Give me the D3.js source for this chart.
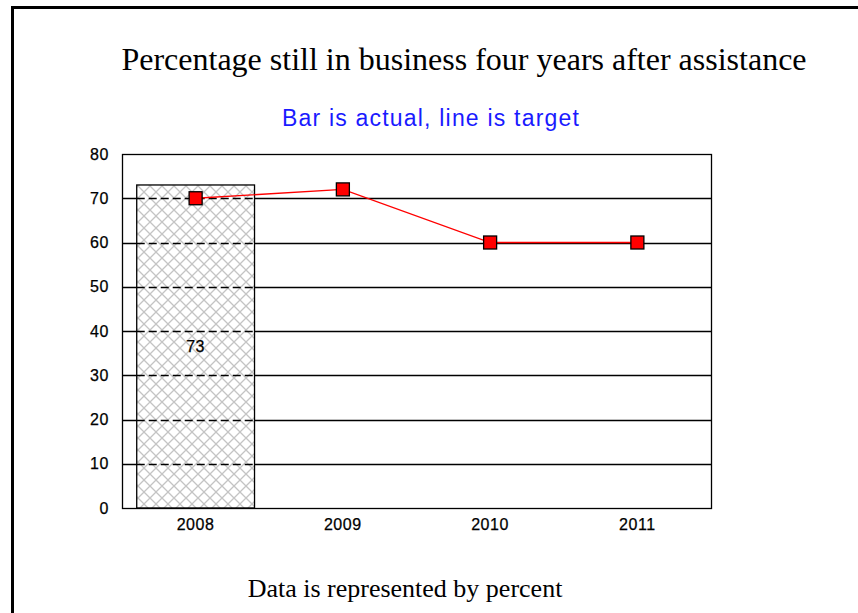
<!DOCTYPE html>
<meta charset="utf-8">
<title>Percentage still in business</title>
<style>
body {
  margin: 0;
  background: #fff;
}
.axis text {
  font: 16px "Liberation Sans", Arial, sans-serif;
  letter-spacing: 0.6px;
  fill: #000;
  stroke: #000;
  stroke-width: 0.25px;
}
</style>
<body>
<script src="https://cdnjs.cloudflare.com/ajax/libs/d3/7.8.5/d3.min.js"></script>
<script>
var years = ["2008", "2009", "2010", "2011"];
var actual = [73, null, null, null];
var target = [70, 72, 60, 60];
var yTicks = [0, 10, 20, 30, 40, 50, 60, 70, 80];

var w = 858,
    h = 613,
    pLeft = 122,
    pRight = 711,
    pTop = 154,
    pBottom = 508;

var svg = d3.select("body").append("svg")
    .attr("width", w)
    .attr("height", h);

// page frame
svg.append("path")
    .attr("d", "M12.5," + h + "V7.5H" + w)
    .attr("fill", "none")
    .attr("stroke", "#000")
    .attr("stroke-width", 3);

svg.append("text")
    .attr("x", 464)
    .attr("y", 70)
    .attr("text-anchor", "middle")
    .style("font", "32px 'Liberation Serif', 'Times New Roman', serif")
    .text("Percentage still in business four years after assistance");

svg.append("text")
    .attr("x", 431)
    .attr("y", 126)
    .attr("text-anchor", "middle")
    .style("font", "23px 'Liberation Sans', Arial, sans-serif")
    .style("letter-spacing", "1.2px")
    .style("fill", "#1a1aff")
    .text("Bar is actual, line is target");

svg.append("text")
    .attr("x", 405)
    .attr("y", 597)
    .attr("text-anchor", "middle")
    .style("font", "26px 'Liberation Serif', 'Times New Roman', serif")
    .text("Data is represented by percent");

var x = d3.scaleBand()
    .domain(years)
    .range([pLeft, pRight])
    .paddingInner(0.2)
    .paddingOuter(0.1);

var y = d3.scaleLinear()
    .domain([0, 80])
    .range([pBottom, pTop]);

var pat = svg.append("defs").append("pattern")
    .attr("id", "hatch")
    .attr("patternUnits", "userSpaceOnUse")
    .attr("width", 12)
    .attr("height", 12);
pat.append("rect").attr("width", 12).attr("height", 12).attr("fill", "#fff");
pat.append("path")
    .attr("d", "M0,0L12,12M12,0L0,12")
    .attr("stroke", "#c4c4c4")
    .attr("stroke-width", 1.3);

// gridlines
svg.append("g")
  .selectAll("line")
    .data(yTicks.slice(1, -1))
  .enter().append("line")
    .attr("x1", pLeft)
    .attr("x2", pRight)
    .attr("y1", function(d) { return Math.round(y(d)) + 0.5; })
    .attr("y2", function(d) { return Math.round(y(d)) + 0.5; })
    .attr("stroke", "#000")
    .attr("stroke-width", 1.3);

var bars = years.map(function(d, i) { return {year: d, value: actual[i]}; })
    .filter(function(d) { return d.value != null; });

svg.append("g")
  .selectAll("rect")
    .data(bars)
  .enter().append("rect")
    .attr("x", function(d) { return x(d.year); })
    .attr("y", function(d) { return y(d.value); })
    .attr("width", x.bandwidth())
    .attr("height", function(d) { return y(0) - y(d.value); })
    .attr("fill", "url(#hatch)")
    .attr("stroke", "#000")
    .attr("stroke-width", 1.3);

// gridlines seen through the bar are dashed
bars.forEach(function(b) {
  svg.append("g")
    .selectAll("line")
      .data(yTicks.filter(function(t) { return t > 0 && t < b.value; }))
    .enter().append("line")
      .attr("x1", x(b.year))
      .attr("x2", x(b.year) + x.bandwidth())
      .attr("y1", function(d) { return Math.round(y(d)) + 0.5; })
      .attr("y2", function(d) { return Math.round(y(d)) + 0.5; })
      .attr("stroke", "#000")
      .attr("stroke-width", 1.3)
      .attr("stroke-dasharray", "8,4");
});

svg.append("g")
  .selectAll("text")
    .data(bars)
  .enter().append("text")
    .attr("x", function(d) { return x(d.year) + x.bandwidth() / 2; })
    .attr("y", function(d) { return y(d.value / 2) + 6; })
    .attr("text-anchor", "middle")
    .style("font", "16px 'Liberation Sans', Arial, sans-serif")
    .style("letter-spacing", "0.6px")
    .style("stroke", "#000")
    .style("stroke-width", "0.25px")
    .text(function(d) { return d.value; });

// plot frame
svg.append("rect")
    .attr("x", pLeft + 0.5)
    .attr("y", pTop + 0.5)
    .attr("width", pRight - pLeft)
    .attr("height", pBottom - pTop)
    .attr("fill", "none")
    .attr("stroke", "#000")
    .attr("stroke-width", 1.3);

var pts = years.map(function(d, i) { return {year: d, value: target[i]}; });

svg.append("path")
    .datum(pts)
    .attr("fill", "none")
    .attr("stroke", "#ff0000")
    .attr("stroke-width", 1.3)
    .attr("d", d3.line()
        .x(function(d) { return x(d.year) + x.bandwidth() / 2; })
        .y(function(d) { return y(d.value); }));

svg.append("g")
  .selectAll("rect")
    .data(pts)
  .enter().append("rect")
    .attr("x", function(d) { return x(d.year) + x.bandwidth() / 2 - 6.5; })
    .attr("y", function(d) { return y(d.value) - 6.5; })
    .attr("width", 13)
    .attr("height", 13)
    .attr("fill", "#ff0000")
    .attr("stroke", "#000")
    .attr("stroke-width", 1.3);

svg.append("g")
    .attr("class", "axis")
    .attr("transform", "translate(" + pLeft + ",0)")
    .call(d3.axisLeft(y).tickValues(yTicks).tickSize(0).tickPadding(13))
    .call(function(g) { g.select(".domain").remove(); });

svg.append("g")
    .attr("class", "axis")
    .attr("transform", "translate(0," + pBottom + ")")
    .call(d3.axisBottom(x).tickSize(0).tickPadding(11))
    .call(function(g) { g.select(".domain").remove(); });
</script>
